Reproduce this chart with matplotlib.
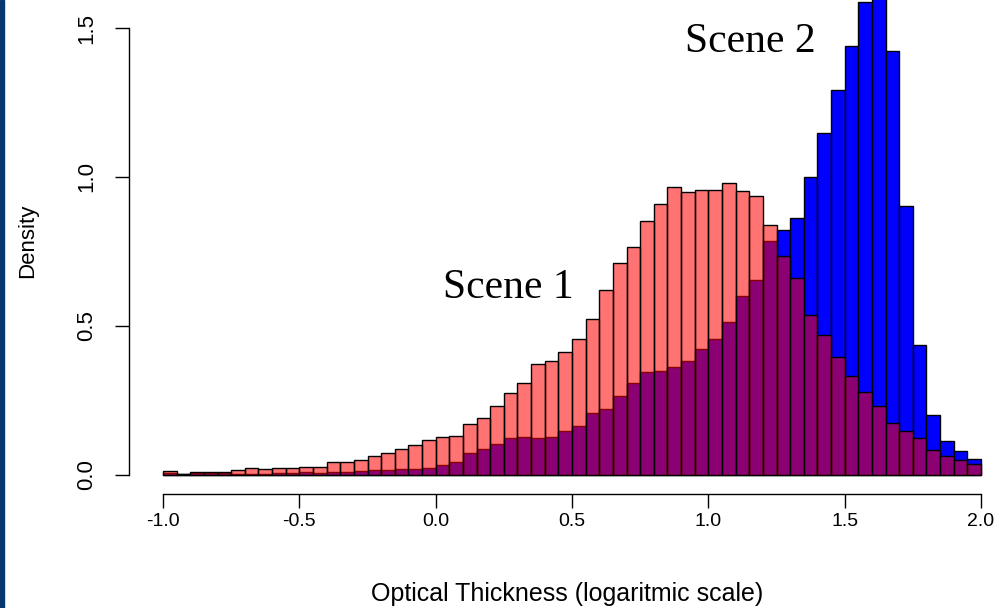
import numpy as np
import matplotlib.pyplot as plt
from matplotlib.patches import Rectangle

# Histogram bins: width 0.05 on the log10 optical-thickness axis, -1 .. 2
bin_lo = -1.0
bin_hi = 2.0
n_bins = 60

# Density per bin, Scene 1 (drawn translucent red on top)
scene1 = [0.012, 0.005, 0.010, 0.010, 0.010, 0.017, 0.025, 0.020, 0.025, 0.025,
          0.028, 0.028, 0.043, 0.043, 0.049, 0.064, 0.074, 0.087, 0.102, 0.116,
          0.126, 0.132, 0.172, 0.191, 0.231, 0.275, 0.309, 0.372, 0.384, 0.413,
          0.456, 0.525, 0.622, 0.712, 0.766, 0.854, 0.908, 0.966, 0.951, 0.956,
          0.956, 0.981, 0.952, 0.936, 0.839, 0.734, 0.662, 0.538, 0.471, 0.395,
          0.331, 0.278, 0.230, 0.174, 0.149, 0.125, 0.084, 0.065, 0.050, 0.036]

# Density per bin, Scene 2 (solid blue underneath)
scene2 = [0.008, 0.004, 0.007, 0.007, 0.007, 0.005, 0.005, 0.005, 0.006, 0.006,
          0.009, 0.006, 0.011, 0.011, 0.013, 0.016, 0.016, 0.020, 0.021, 0.024,
          0.034, 0.045, 0.073, 0.087, 0.103, 0.123, 0.128, 0.123, 0.128, 0.147,
          0.165, 0.207, 0.221, 0.266, 0.308, 0.344, 0.350, 0.364, 0.384, 0.423,
          0.456, 0.512, 0.601, 0.653, 0.786, 0.822, 0.863, 1.001, 1.149, 1.293,
          1.438, 1.587, 1.660, 1.424, 0.902, 0.437, 0.202, 0.115, 0.082, 0.053]

x_ticks = [-1.0, -0.5, 0.0, 0.5, 1.0, 1.5, 2.0]
y_ticks = [0.0, 0.5, 1.0, 1.5]

W, H, DPI = 999, 608, 100
fig = plt.figure(figsize=(W / DPI, H / DPI), dpi=DPI)
plt.rcParams['font.family'] = ['Liberation Sans', 'DejaVu Sans']

# plot region in pixels; data limits chosen so x=-1..2 spans px 163..981
# and y=0 sits at px 475 (from top) with 298 px per density unit
px_per_x = (981 - 163) / 3.0
px_per_y = 298.0
left_px, right_px, top_px, bottom_px = 135, 999, 0, 482
ax = fig.add_axes([left_px / W, (H - bottom_px) / H,
                   (right_px - left_px) / W, (bottom_px - top_px) / H])
ax.set_xlim(-1 + (left_px - 163) / px_per_x, -1 + (right_px - 163) / px_per_x)
ax.set_ylim((475 - bottom_px) / px_per_y, (475 - top_px) / px_per_y)

edges = np.linspace(bin_lo, bin_hi, n_bins + 1)
width = edges[1] - edges[0]
ax.bar(edges[:-1], scene2, width=width, align='edge', color='#0000ff',
       edgecolor='black', linewidth=1.0)
ax.bar(edges[:-1], scene1, width=width, align='edge', color=(1, 0, 0, 0.55),
       edgecolor='black', linewidth=1.0)

# R-style axes: detached, spanning only the tick range
for s in ('top', 'right'):
    ax.spines[s].set_visible(False)
ax.spines['left'].set_position(('outward', 6 * 72 / DPI))
ax.spines['bottom'].set_position(('outward', 12 * 72 / DPI))
ax.spines['left'].set_bounds(0, 1.5)
ax.spines['bottom'].set_bounds(-1, 2)
ax.spines['left'].set_linewidth(1.0)
ax.spines['bottom'].set_linewidth(1.0)

ax.set_xticks(x_ticks)
ax.set_xticklabels([f"{v:.1f}" for v in x_ticks])
ax.set_yticks(y_ticks)
ax.set_yticklabels([f"{v:.1f}" for v in y_ticks], rotation=90, va='center')
ax.tick_params(axis='x', length=10, width=1.0, pad=4, labelsize=14, colors='black')
ax.tick_params(axis='y', length=10, width=1.0, pad=13, labelsize=16, colors='black')

ax.set_xlabel("Optical Thickness (logaritmic scale)", fontsize=18, labelpad=37)
ax.set_ylabel("Density", fontsize=16, labelpad=27)

serif = ['Liberation Serif', 'DejaVu Serif']
ax.text(0.027, 0.595, "Scene 1", family=serif, fontsize=30, va='baseline', ha='left')
ax.text(0.914, 1.42, "Scene 2", family=serif, fontsize=30, va='baseline', ha='left')

# navy slide border on the left edge
fig.patches.append(Rectangle((0, 0), 4 / W, 1, transform=fig.transFigure,
                             color='#063870', zorder=10))

fig.savefig("out.png", dpi=DPI)
